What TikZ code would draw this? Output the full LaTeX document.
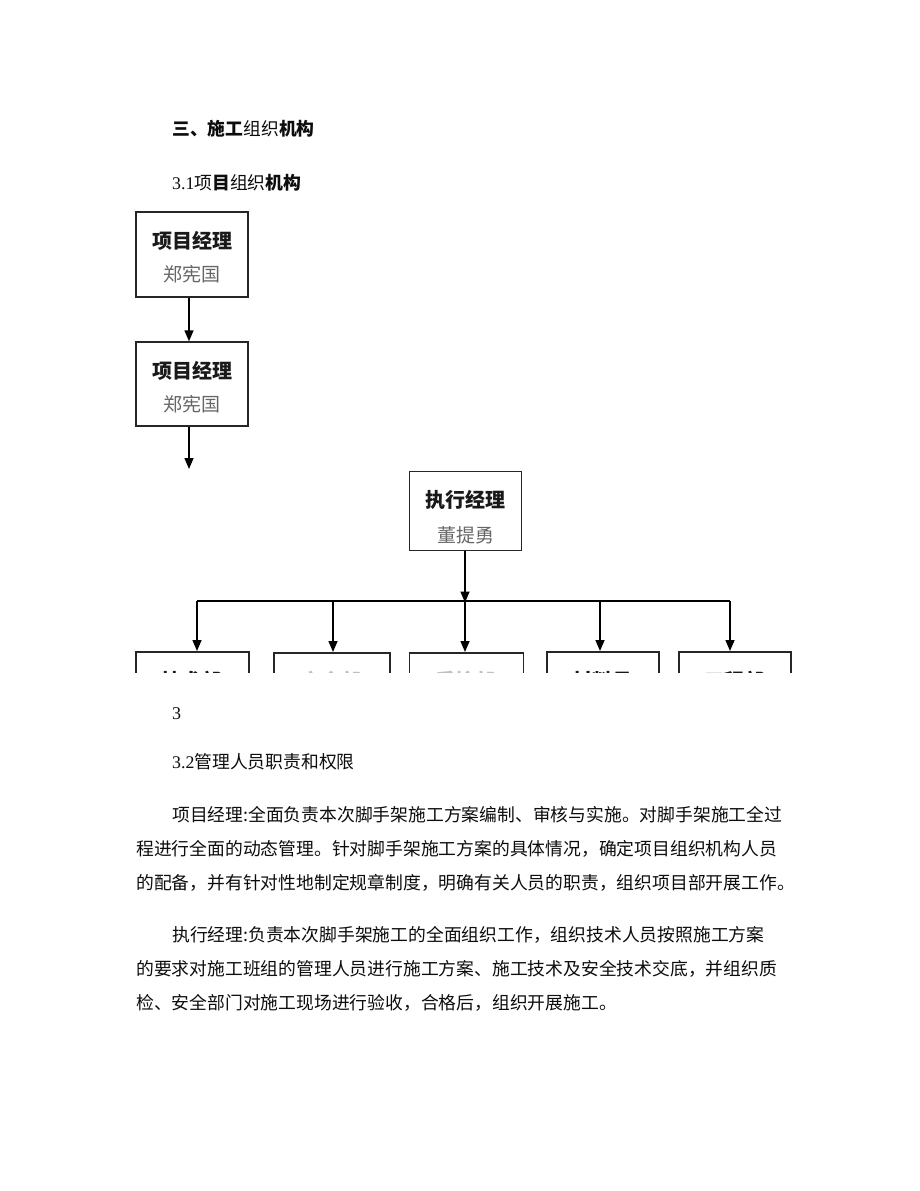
\documentclass[tikz,border=0pt]{standalone}
\usepackage{fontspec}
\setmainfont{Liberation Serif}
\newfontfamily\cjk{Noto Sans CJK SC}
\usetikzlibrary{arrows.meta}
\tikzset{
  txt/.style={inner sep=0pt, anchor=west, font=\cjk\fontsize{17.8}{18}\selectfont, text=black!95},
  orgbox/.style={draw=black!85, line width=1.5pt, minimum width=112pt, minimum height=84pt, inner sep=0pt},
  boxtitle/.style={inner sep=0pt, font=\cjk\bfseries\fontsize{20}{20}\selectfont, text=black!90},
  boxname/.style={inner sep=0pt, font=\cjk\fontsize{19}{19}\selectfont, text=black!60},
  arr/.style={line width=1.5pt, -{Triangle[length=11pt,width=9pt]}},
  barline/.style={line width=2.6pt}
}
\begin{document}
\begin{tikzpicture}[x=1pt,y=-1pt]
\useasboundingbox[fill=white] (0,0) rectangle (920,1191);
% headings
\node[txt] (h1) at (172,129) {\cjk\bfseries 三、施工\mdseries 组织\bfseries 机构};
\node[txt] (h2) at (172,183) {\rmfamily 3.1\cjk 项\bfseries 目\mdseries 组织\bfseries 机构};
% box 1
\node[orgbox, minimum height=85pt] (pm1) at (192,254.5) {};
\node[boxtitle] (pm1t) at (192,241) {项目经理};
\node[boxname] (pm1n) at (192,274) {郑宪国};
% box 2
\node[orgbox] (pm2) at (192,384) {};
\node[boxtitle] (pm2t) at (192,371) {项目经理};
\node[boxname] (pm2n) at (192,404) {郑宪国};
\coordinate (x1a) at (189,297.7);
\coordinate (x1b) at (189,341.3);
\draw[arr] (x1a) -- (x1b);
\coordinate (x2a) at (189,426.7);
\coordinate (x2b) at (189,469);
\draw[arr] (x2a) -- (x2b);
% box 3
\node[orgbox, minimum height=79pt] (em) at (465.5,511) {};
\node[boxtitle] (emt) at (465.5,500) {执行经理};
\node[boxname] (emn) at (465.5,535) {董提勇};
\coordinate (bar) at (465,601);
\coordinate (emb) at (465,551.2);
\draw[arr] (emb) -- ([yshift=-1.5pt]bar);
\coordinate (b1) at (197,601);
\coordinate (b2) at (333,601);
\coordinate (b3) at (465,601);
\coordinate (b4) at (600,601);
\coordinate (b5) at (730,601);
\draw[barline] (b1) -- (b5);
% bottom row (cropped)
\begin{scope}
\clip (100,640) rectangle (820,672);
\node[orgbox, minimum width=113pt, anchor=north west] (d1) at (135,651) {};
\node[orgbox, minimum width=116pt, anchor=north west] (d2) at (273,652) {};
\node[orgbox, minimum width=114pt, anchor=north west] (d3) at (408.5,652) {};
\node[orgbox, minimum width=112pt, anchor=north west] (d4) at (546,651) {};
\node[orgbox, minimum width=112pt, anchor=north west] (d5) at (678,651) {};
\node[boxtitle] (d1t) at (191.5,681) {技术部};
\node[boxtitle, text=black!25] (d2t) at (331,681) {安全部};
\node[boxtitle, text=black!25] (d3t) at (465,681) {质检部};
\node[boxtitle] (d4t) at (602,681) {材料员};
\node[boxtitle] (d5t) at (734,681) {工程部};
\end{scope}
\foreach \i in {1,...,5} {
  \draw[arr] (b\i) -- (b\i |- d\i.north);
}
% page number and section
\node[txt, font=\rmfamily\fontsize{18}{18}\selectfont] (pg) at (172,714) {3};
\node[txt] (h3) at (172,762) {\rmfamily 3.2\cjk 管理人员职责和权限};
% paragraph 1
\node[txt] (p1a) at (172,815) {项目经理:全面负责本次脚手架施工方案编制、审核与实施。对脚手架施工全过};
\node[txt] (p1b) at (136,849) {程进行全面的动态管理。针对脚手架施工方案的具体情况，确定项目组织机构人员};
\node[txt] (p1c) at (136,883) {的配备，并有针对性地制定规章制度，明确有关人员的职责，组织项目部开展工作。};
% paragraph 2
\node[txt] (p2a) at (172,935) {执行经理:负责本次脚手架施工的全面组织工作，组织技术人员按照施工方案};
\node[txt] (p2b) at (136,969) {的要求对施工班组的管理人员进行施工方案、施工技术及安全技术交底，并组织质};
\node[txt] (p2c) at (136,1003) {检、安全部门对施工现场进行验收，合格后，组织开展施工。};
\end{tikzpicture}
\end{document}
